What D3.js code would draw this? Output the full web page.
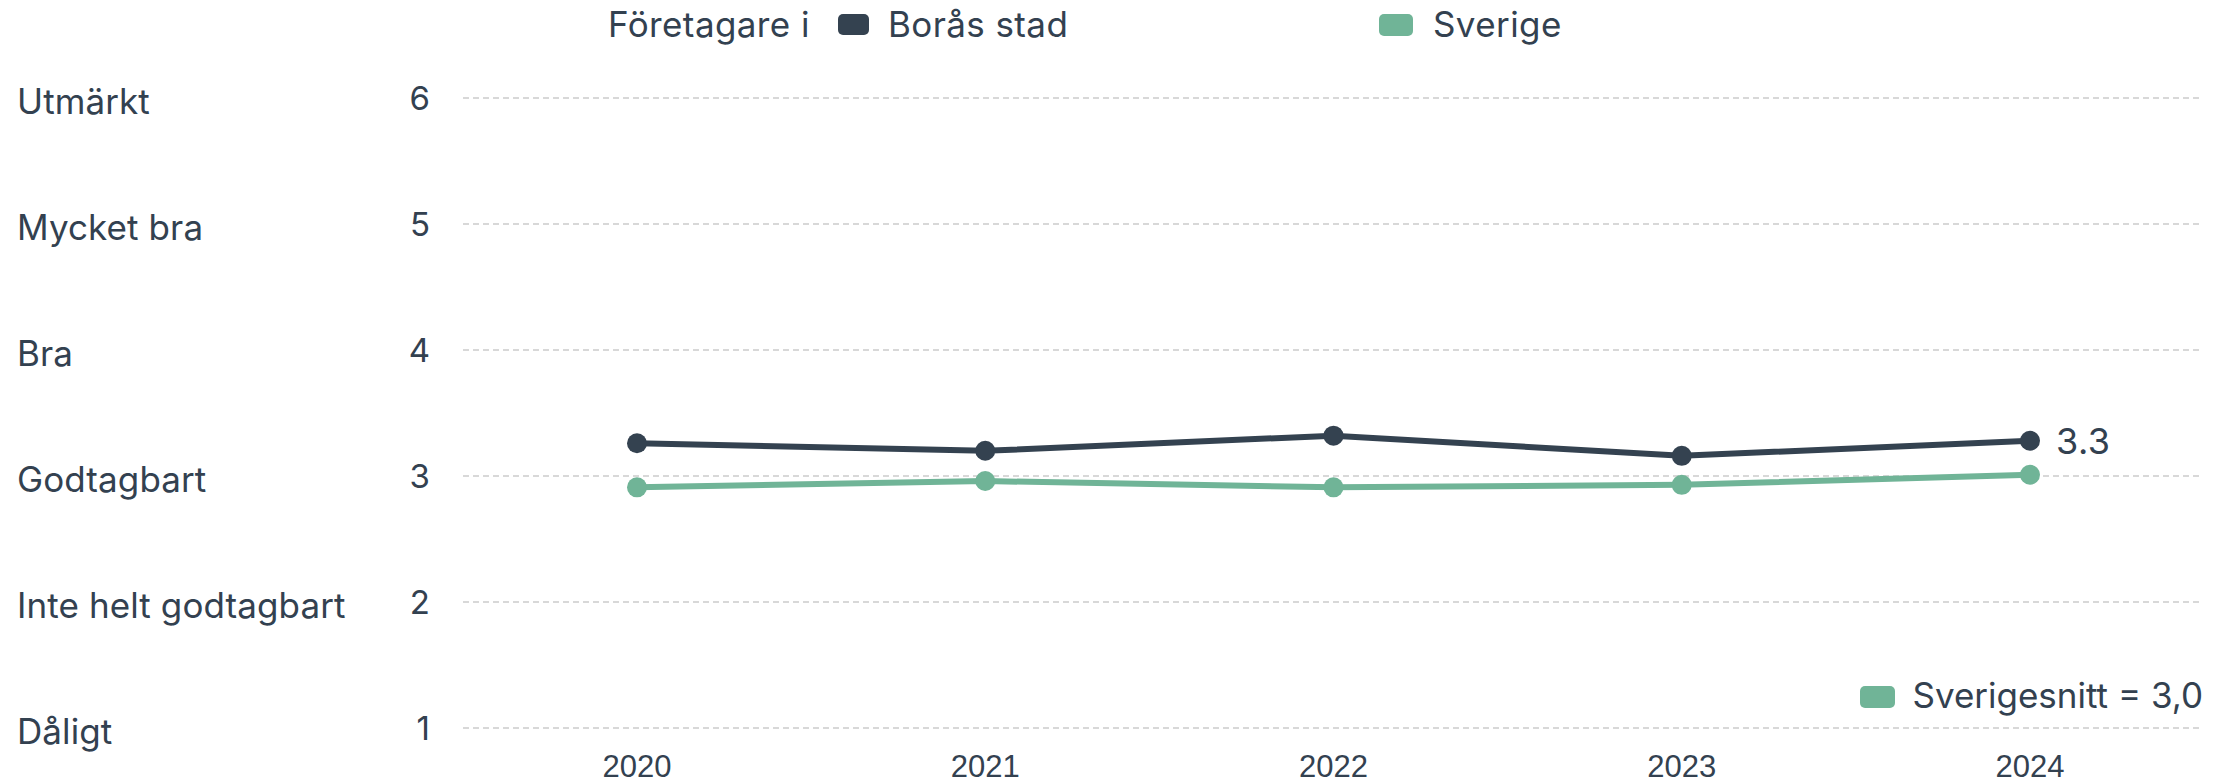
<!DOCTYPE html>
<html>
<head>
<meta charset="utf-8">
<script src="https://cdn.jsdelivr.net/npm/d3@7"></script>
<style>
  html, body { margin: 0; padding: 0; background: #fff; }
  svg { display: block; }
</style>
</head>
<body>
<svg id="chart" width="2229" height="783"></svg>
<script>
const years = ["2020", "2021", "2022", "2023", "2024"];
const borasValues = [3.26, 3.20, 3.32, 3.16, 3.28];
const sverigeValues = [2.91, 2.96, 2.91, 2.93, 3.01];
const yTicks = [1, 2, 3, 4, 5, 6];
const yCategoryLabels = ["Dåligt", "Inte helt godtagbart", "Godtagbart", "Bra", "Mycket bra", "Utmärkt"];
const seriesNames = ["Borås stad", "Sverige"];
const legendTitle = "Företagare i";
const lastLabel = "3.3";
const averageLabel = "Sverigesnitt = 3,0";

const dark = "#344250";
const green = "#70b497";
const textColor = "#334150";
const mainFont = "Inter, 'Open Sans', sans-serif";
const yearFont = "'Liberation Sans', Arial, sans-serif";

const svg = d3.select("#chart");

const x = d3.scalePoint().domain(years).range([637, 2030]);
const y = d3.scaleLinear().domain([1, 6]).range([728, 98]);
const gridX0 = 463, gridX1 = 2203;

// gridlines
svg.append("g").selectAll("line").data(yTicks).join("line")
  .attr("x1", gridX0).attr("x2", gridX1)
  .attr("y1", d => y(d)).attr("y2", d => y(d))
  .attr("stroke", "#cccccc").attr("stroke-width", 1.5)
  .attr("stroke-dasharray", "6,4");

// y tick numbers
svg.append("g").selectAll("text").data(yTicks).join("text")
  .attr("x", 430).attr("y", d => y(d) + 12)
  .attr("text-anchor", "end")
  .attr("font-family", mainFont).attr("font-size", 33)
  .attr("fill", textColor)
  .text(d => d);

// category labels
svg.append("g").selectAll("text").data(yTicks).join("text")
  .attr("x", 17).attr("y", d => y(d) + 16)
  .attr("font-family", mainFont).attr("font-size", 35)
  .attr("letter-spacing", 0.1)
  .attr("fill", textColor)
  .text((d, i) => yCategoryLabels[i]);

// x axis labels
svg.append("g").selectAll("text").data(years).join("text")
  .attr("x", d => x(d)).attr("y", 777)
  .attr("text-anchor", "middle")
  .attr("font-family", yearFont).attr("font-size", 31)
  .attr("fill", textColor)
  .text(d => d);

const line = d3.line().x((d, i) => x(years[i])).y(d => y(d));

function drawSeries(values, color) {
  svg.append("path").datum(values)
    .attr("d", line)
    .attr("fill", "none").attr("stroke", color)
    .attr("stroke-width", 6).attr("stroke-linejoin", "round");
  svg.append("g").selectAll("circle").data(values).join("circle")
    .attr("cx", (d, i) => x(years[i])).attr("cy", d => y(d))
    .attr("r", 10).attr("fill", color);
}
drawSeries(sverigeValues, green);
drawSeries(borasValues, dark);

// end label
svg.append("text")
  .attr("x", x(years[years.length - 1]) + 26)
  .attr("y", y(borasValues[borasValues.length - 1]) + 13)
  .attr("font-family", mainFont).attr("font-size", 36)
  .attr("letter-spacing", 0.5)
  .attr("fill", textColor)
  .text(lastLabel);

// top legend
svg.append("text").attr("x", 608).attr("y", 37)
  .attr("font-family", mainFont).attr("font-size", 35)
  .attr("letter-spacing", 0.4)
  .attr("fill", textColor).text(legendTitle);
const legendItems = [
  { name: seriesNames[0], color: dark, rx: 838, ry: 14, w: 31, h: 21, tx: 888 },
  { name: seriesNames[1], color: green, rx: 1379, ry: 14, w: 34, h: 22, tx: 1433 }
];
legendItems.forEach(it => {
  svg.append("rect").attr("x", it.rx).attr("y", it.ry)
    .attr("width", it.w).attr("height", it.h).attr("rx", 5)
    .attr("fill", it.color);
  svg.append("text").attr("x", it.tx).attr("y", 37)
    .attr("font-family", mainFont).attr("font-size", 35)
    .attr("letter-spacing", 0.4)
    .attr("fill", textColor).text(it.name);
});

// average legend
svg.append("rect").attr("x", 1860).attr("y", 686)
  .attr("width", 35).attr("height", 22).attr("rx", 5)
  .attr("fill", green);
svg.append("text").attr("x", 2203).attr("y", 708)
  .attr("text-anchor", "end")
  .attr("font-family", mainFont).attr("font-size", 35)
  .attr("fill", textColor).text(averageLabel);
</script>
</body>
</html>
